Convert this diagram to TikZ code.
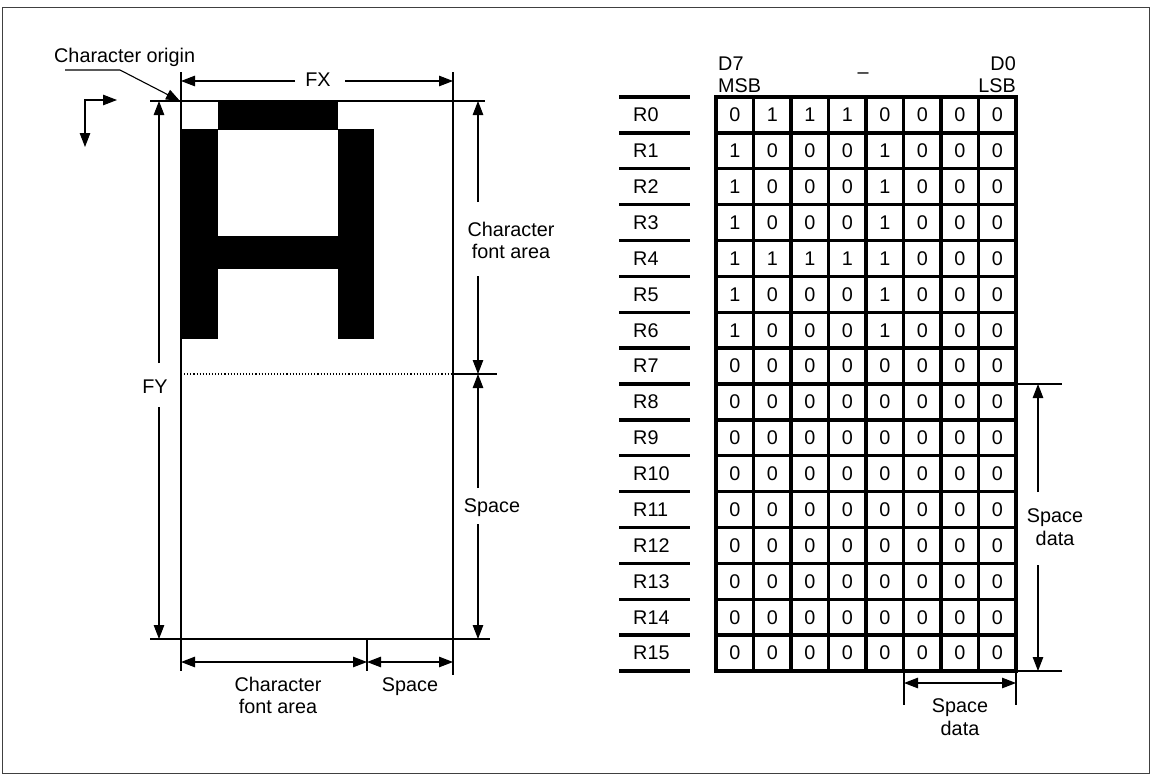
\documentclass[tikz,border=0pt]{standalone}
\usepackage{fontspec}
\setmainfont{Liberation Sans}
\usetikzlibrary{arrows.meta,calc}
\begin{document}
\begin{tikzpicture}[x=1pt,y=-1pt,
  lbl/.style={font=\fontsize{19.8}{23}\selectfont, inner sep=0pt},
  dim/.style={line width=1.1pt, -{Triangle[length=14pt,width=10.5pt]}},
  dimb/.style={line width=1.1pt, {Triangle[length=14pt,width=10.5pt]}-{Triangle[length=14pt,width=10.5pt]}},
  frm/.style={line width=1.8pt},
  thin/.style={line width=1.1pt},
  gridln/.style={line width=3.4pt},
  blk/.style={fill=black, draw=none}]
\useasboundingbox (0,0) rectangle (1152,774);
% outer border
\coordinate (bTL) at (2,7); \coordinate (bBR) at (1149,773);
\draw[line width=1pt, black!75] (bTL) rectangle (bBR);

% ---------------- left diagram ----------------
% glyph A
\coordinate (a1) at (218,101); \coordinate (a2) at (338,130);
\coordinate (a3) at (181,129); \coordinate (a4) at (218,339);
\coordinate (a5) at (338,129); \coordinate (a6) at (374,339);
\coordinate (a7) at (218,236); \coordinate (a8) at (338,269);
\fill[blk] (a1) rectangle (a2);
\fill[blk] (a3) rectangle (a4);
\fill[blk] (a5) rectangle (a6);
\fill[blk] (a7) rectangle (a8);

% frame lines
\coordinate (vL1) at (181,72); \coordinate (vL2) at (181,671);
\coordinate (vR1) at (453,72); \coordinate (vR2) at (453,675);
\coordinate (hT1) at (150,101); \coordinate (hT2) at (485,101);
\coordinate (hB1) at (150,639); \coordinate (hB2) at (490,639);
\coordinate (tk1) at (367,639); \coordinate (tk2) at (367,671);
\coordinate (dt1) at (181,374); \coordinate (dt2) at (453,374);
\coordinate (hm2) at (497,374);
\draw[frm] (vL1) -- (vL2);
\draw[frm] (vR1) -- (vR2);
\draw[thin] (hT1) -- (hT2);
\draw[thin] (hB1) -- (hB2);
\draw[thin] (tk1) -- (tk2);
\draw[thin, dotted] (dt1) -- (dt2);
\draw[thin] (dt2) -- (hm2);

% character origin
\node[lbl, anchor=base west] (co) at (54,62) {Character origin};
\coordinate (co1) at (65,70); \coordinate (co2) at (120,70); \coordinate (co3) at (180,101);
\draw[thin, -{Triangle[length=14pt,width=10.5pt]}] (co1) -- (co2) -- (co3);

% direction arrows
\coordinate (dr1) at (117,100); \coordinate (dr2) at (85,100); \coordinate (dr3) at (85,147);
\draw[dimb] (dr1) -- (dr2) -- (dr3);

% FX
\node[lbl] (fx) at (318,80) {FX};
\coordinate (fxa) at (295,81); \coordinate (fxb) at (345,81);
\coordinate (fxL) at (181,81); \coordinate (fxR) at (453,81);
\draw[dim] (fxa) -- (fxL);
\draw[dim] (fxb) -- (fxR);

% FY
\node[lbl] (fy) at (155,387) {FY};
\coordinate (fya) at (159,363); \coordinate (fyb) at (159,407);
\coordinate (fyT) at (159,101); \coordinate (fyB) at (159,639);
\draw[dim] (fya) -- (fyT);
\draw[dim] (fyb) -- (fyB);

% right: character font area
\node[lbl, anchor=base] (cf1) at (511,236) {Character};
\node[lbl, anchor=base] (cf2) at (511,258) {font area};
\coordinate (cfa) at (478,202); \coordinate (cfb) at (478,276);
\coordinate (cfT) at (478,101); \coordinate (cfB) at (478,374);
\draw[dim] (cfa) -- (cfT);
\draw[dim] (cfb) -- (cfB);

% right: space
\node[lbl, anchor=base] (sp1) at (492,512) {Space};
\coordinate (spa) at (478,488); \coordinate (spb) at (478,524);
\coordinate (spT) at (478,374); \coordinate (spB) at (478,639);
\draw[dim] (spa) -- (spT);
\draw[dim] (spb) -- (spB);

% bottom dimensions
\coordinate (bd1) at (181,662); \coordinate (bd2) at (367,662); \coordinate (bd3) at (453,662);
\draw[dimb] (bd1) -- (bd2);
\draw[dimb] (bd2) -- (bd3);
\node[lbl, anchor=base] (bc1) at (278,691) {Character};
\node[lbl, anchor=base] (bc2) at (278,713) {font area};
\node[lbl, anchor=base] (bs1) at (410,691) {Space};

% ---------------- right diagram (table) ----------------
\node[lbl, anchor=base west] (d7) at (718,70) {D7};
\node[lbl, anchor=base west] (msb) at (718,92) {MSB};
\node[lbl, anchor=base east] (d0) at (1016,70) {D0};
\node[lbl, anchor=base east] (lsb) at (1016,92) {LSB};
\node[lbl, anchor=base] (dash) at (863,78) {–};

% grid lines
\foreach \k in {0,...,16}{
  \coordinate (gl\k) at (716,{97+35.875*\k});
  \coordinate (gr\k) at (1016,{97+35.875*\k});
  \coordinate (rl\k) at (619,{97+35.875*\k});
  \coordinate (rr\k) at (690,{97+35.875*\k});
  \draw[gridln] (gl\k) -- (gr\k);
  \draw[gridln] (rl\k) -- (rr\k);
}
\foreach \k in {0,...,8}{
  \coordinate (gt\k) at ({716+37.5*\k},97);
  \coordinate (gb\k) at ({716+37.5*\k},671);
  \draw[gridln] (gt\k) -- (gb\k);
}
\draw[gridln, line join=miter] (gl0) rectangle (gr16);

% cells
\foreach \row [count=\r from 0] in {
  {0,1,1,1,0,0,0,0},{1,0,0,0,1,0,0,0},{1,0,0,0,1,0,0,0},{1,0,0,0,1,0,0,0},
  {1,1,1,1,1,0,0,0},{1,0,0,0,1,0,0,0},{1,0,0,0,1,0,0,0},{0,0,0,0,0,0,0,0},
  {0,0,0,0,0,0,0,0},{0,0,0,0,0,0,0,0},{0,0,0,0,0,0,0,0},{0,0,0,0,0,0,0,0},
  {0,0,0,0,0,0,0,0},{0,0,0,0,0,0,0,0},{0,0,0,0,0,0,0,0},{0,0,0,0,0,0,0,0}}{
  \node[lbl, anchor=west] (rn\r) at (633,{97+35.875*(\r+0.5)}) {R\r};
  \foreach \b [count=\c from 0] in \row {
    \node[lbl] (c\r-\c) at ({716+37.5*(\c+0.5)},{97+35.875*(\r+0.5)}) {\b};
  }
}

% space data vertical
\coordinate (sv1) at (1016,384); \coordinate (sv2) at (1062,384);
\coordinate (sv3) at (1016,671); \coordinate (sv4) at (1062,671);
\draw[thin] (sv1) -- (sv2);
\draw[thin] (sv3) -- (sv4);
\node[lbl, anchor=base] (sd1) at (1055,522) {Space};
\node[lbl, anchor=base] (sd2) at (1055,545) {data};
\coordinate (sva) at (1038,492); \coordinate (svb) at (1038,565);
\coordinate (svT) at (1038,384); \coordinate (svB) at (1038,671);
\draw[dim] (sva) -- (svT);
\draw[dim] (svb) -- (svB);

% space data horizontal
\coordinate (sh1) at (904,671); \coordinate (sh2) at (904,705);
\coordinate (sh3) at (1016,671); \coordinate (sh4) at (1016,705);
\draw[thin] (sh1) -- (sh2);
\draw[thin] (sh3) -- (sh4);
\coordinate (sha) at (904,683); \coordinate (shb) at (1016,683);
\draw[dimb] (sha) -- (shb);
\node[lbl, anchor=base] (sx1) at (960,712) {Space};
\node[lbl, anchor=base] (sx2) at (960,735) {data};
\end{tikzpicture}
\end{document}
